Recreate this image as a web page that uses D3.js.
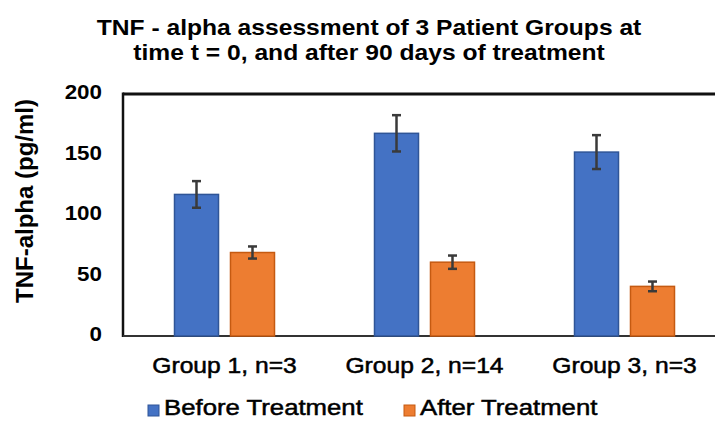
<!DOCTYPE html>
<html>
<head>
<meta charset="utf-8">
<script src="https://cdn.jsdelivr.net/npm/d3@7"></script>
<style>
  html, body { margin: 0; padding: 0; background: #fff; }
  svg { display: block; font-family: "Liberation Sans", Arial, sans-serif; }
</style>
</head>
<body>
<svg width="715" height="421"></svg>
<script>
// chart data
var groups = ['Group 1, n=3', 'Group 2, n=14', 'Group 3, n=3'];
var seriesNames = ['Before Treatment', 'After Treatment'];
var beforeValues = [117, 167.5, 152];
var beforeErrors = [11, 15, 14];
var afterValues = [69, 61, 41];
var afterErrors = [5, 5.5, 4];
var yTicks = [0, 50, 100, 150, 200];
var titleLines = ['TNF - alpha assessment of 3 Patient Groups at', 'time t = 0, and after 90 days of treatment'];
var yTitle = 'TNF-alpha (pg/ml)';

var colors = { 'Before Treatment': '#4472C4', 'After Treatment': '#ED7D31' };
var borders = { 'Before Treatment': '#2F5597', 'After Treatment': '#C55A11' };

// text in the source is a bit wider than tall
var sx = 1.12;

var svg = d3.select('svg');
var plot = { left: 123, top: 94, bottom: 336, x0: 124.5, x1: 724.5 };

// scales
var xScale = d3.scaleBand().domain(groups).range([plot.x0, plot.x1]);
var xInner = d3.scaleBand().domain(seriesNames).range([50, 150]).paddingInner(0.214);
var yScale = d3.scaleLinear().domain([0, 200]).range([plot.bottom, plot.top]);

// rows for bars
var rows = [];
groups.forEach(function(g, i) {
    rows.push({ group: g, series: seriesNames[0], value: beforeValues[i], err: beforeErrors[i] });
    rows.push({ group: g, series: seriesNames[1], value: afterValues[i], err: afterErrors[i] });
});

// plot frame (right side is cut off in the source)
svg.append('line')
    .attr('x1', plot.left).attr('x2', 740)
    .attr('y1', plot.top).attr('y2', plot.top)
    .attr('stroke', '#111').attr('stroke-width', 3);
svg.append('line')
    .attr('x1', plot.left).attr('x2', plot.left)
    .attr('y1', plot.top - 1.5).attr('y2', plot.bottom + 1)
    .attr('stroke', '#111').attr('stroke-width', 2.5);
svg.append('line')
    .attr('x1', plot.left).attr('x2', 740)
    .attr('y1', plot.bottom).attr('y2', plot.bottom)
    .attr('stroke', '#333').attr('stroke-width', 2);

// bars
svg.append('g').selectAll('rect')
    .data(rows)
    .enter().append('rect')
    .attr('x', function(d) { return xScale(d.group) + xInner(d.series); })
    .attr('y', function(d) { return yScale(d.value); })
    .attr('width', xInner.bandwidth())
    .attr('height', function(d) { return yScale(0) - yScale(d.value); })
    .attr('fill', function(d) { return colors[d.series]; })
    .attr('stroke', function(d) { return borders[d.series]; })
    .attr('stroke-width', 1.5);

// error bars
var errG = svg.append('g')
    .attr('stroke', '#3a3a3a')
    .attr('stroke-width', 2.5)
    .attr('fill', 'none');
rows.forEach(function(d) {
    var cx = xScale(d.group) + xInner(d.series) + xInner.bandwidth() / 2;
    var yHi = yScale(d.value + d.err);
    var yLo = yScale(d.value - d.err);
    errG.append('line').attr('x1', cx).attr('x2', cx).attr('y1', yHi).attr('y2', yLo);
    errG.append('line').attr('x1', cx - 4.5).attr('x2', cx + 4.5).attr('y1', yHi).attr('y2', yHi);
    errG.append('line').attr('x1', cx - 4.5).attr('x2', cx + 4.5).attr('y1', yLo).attr('y2', yLo);
});

// helper for stretched text; regular text gets a thin outline, the source is heavy
function addText(x, y, str, size, weight, anchor) {
    var t = svg.append('text')
        .attr('transform', 'translate(' + x + ',' + y + ') scale(' + sx + ',1)')
        .attr('text-anchor', anchor)
        .attr('font-size', size)
        .attr('font-weight', weight)
        .attr('fill', '#000')
        .text(str);
    if (weight === 'normal') {
        t.attr('stroke', '#000').attr('stroke-width', 0.5);
    }
    return t;
}

// y axis tick labels
yTicks.forEach(function(t) {
    addText(102, yScale(t) - 2, t, 20, 'bold', 'end').attr('dy', '0.36em');
});

// y axis title
svg.append('text')
    .attr('transform', 'translate(33,201) rotate(-90)')
    .attr('text-anchor', 'middle')
    .attr('font-size', 24)
    .attr('font-weight', 'bold')
    .text(yTitle);

// x axis labels
groups.forEach(function(g) {
    addText(xScale(g) + xScale.bandwidth() / 2, 373, g, 22, 'normal', 'middle');
});

// title
titleLines.forEach(function(line, i) {
    addText(369, 35 + i * 25, line, 22, 'bold', 'middle');
});

// legend
var legendX = [148, 404];
seriesNames.forEach(function(s, i) {
    svg.append('rect')
        .attr('x', legendX[i]).attr('y', 405)
        .attr('width', 11).attr('height', 11)
        .attr('fill', colors[s])
        .attr('stroke', borders[s])
        .attr('stroke-width', 1);
    addText(legendX[i] + 16, 415, s, 22, 'normal', 'start')
        .attr('transform', 'translate(' + (legendX[i] + 16) + ',415) scale(1.17,1)');
});
</script>
</body>
</html>
